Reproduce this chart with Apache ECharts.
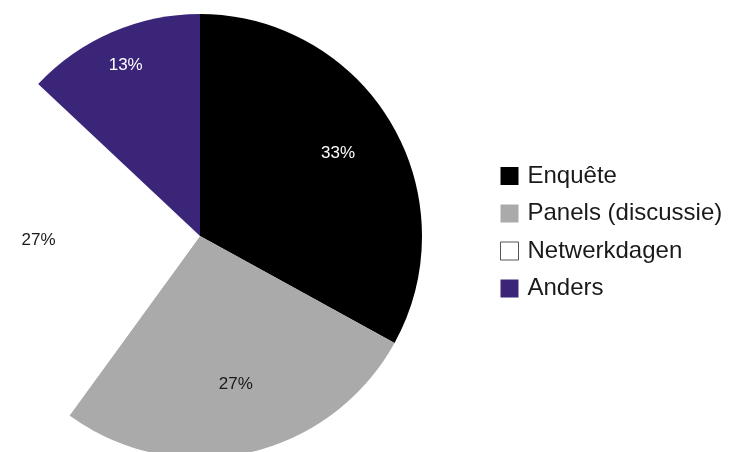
<!DOCTYPE html>
<html>
<head>
<meta charset="utf-8">
<script src="https://cdn.jsdelivr.net/npm/echarts@6/dist/echarts.min.js"></script>
<style>
  html, body { margin: 0; padding: 0; background: #fff; }
  #chart { width: 731px; height: 452px; }
</style>
</head>
<body>
<div id="chart"></div>
<script>
// data
const categories = ['Enquête', 'Panels (discussie)', 'Netwerkdagen', 'Anders'];
const values = [33, 27, 27, 13];
const colors = ['#000000', '#aaaaaa', '#ffffff', '#3a2579'];
const labelColors = ['#ffffff', '#1a1a1a', '#1a1a1a', '#ffffff'];
// label nudges from the 'inside' spot
const labelOffsets = [[40, -25], [11, 37], [-48, -6], [-29, -66]];

const chart = echarts.init(document.getElementById('chart'));

const options = {
  animation: false,
  legend: {
    orient: 'vertical',
    left: 500,
    top: 164,
    padding: 0,
    itemWidth: 18,
    itemHeight: 18,
    itemGap: 13.5,
    icon: 'rect',
    textStyle: {
      fontFamily: 'Liberation Sans',
      fontSize: 24,
      lineHeight: 24,
      color: '#1a1a1a',
      padding: [0, 0, 0, 4],
    },
    data: categories.map((name, i) => ({
      name,
      itemStyle: i === 2 ? { color: '#ffffff', borderColor: '#555', borderWidth: 1 } : {},
    })),
  },
  series: [{
    type: 'pie',
    center: [200, 236],
    radius: [0, 222],
    startAngle: 90,
    clockwise: true,
    silent: true,
    label: {
      show: true,
      position: 'inside',
      fontFamily: 'Liberation Sans',
      fontSize: 17,
      formatter: '{c}%',
    },
    labelLine: { show: false },
    data: categories.map((name, i) => ({
      name,
      value: values[i],
      itemStyle: { color: colors[i] },
      label: { color: labelColors[i], offset: labelOffsets[i] },
    })),
  }],
};

chart.setOption(options);
</script>
</body>
</html>
